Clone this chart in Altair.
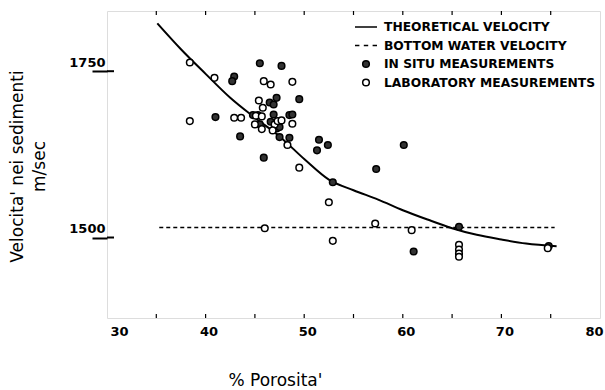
import altair as alt
import pandas as pd

# ---------------- data ----------------
X_DOMAIN = [30, 80]
Y_DOMAIN = [1379, 1840.5]
X_LABEL_TICKS = [30, 40, 50, 60, 70, 80]
X_MINOR_TICKS = [35, 40, 45, 50, 55, 60, 65, 70, 75]
Y_TICKS = [1500, 1750]

insitu_x = [42.9, 42.7, 45.5, 47.7, 47.2, 49.5, 46.5, 46.9, 41.0, 43.5,
            45.9, 51.5, 52.4, 51.3, 47.5, 44.8, 45.3, 46.9, 48.5, 48.8,
            45.5, 46.6, 47.2, 47.5, 52.9, 57.3, 60.1, 61.1, 65.7, 74.8,
            48.5]
insitu_y = [1742, 1735, 1762, 1758, 1710, 1708, 1703, 1700, 1681, 1652,
            1620, 1647, 1639, 1631, 1651, 1684, 1684, 1685, 1684, 1685,
            1670, 1674, 1664, 1666, 1583, 1603, 1639, 1479, 1516, 1487,
            1650]

lab_x = [38.4, 40.9, 45.9, 46.6, 48.8, 45.4, 45.8, 38.4, 42.9, 43.6,
         45.0, 45.7, 47.0, 47.3, 47.7, 46.8, 48.8, 48.3, 49.5, 52.5,
         46.0, 52.9, 57.2, 60.9, 65.7, 65.7, 65.7, 65.7, 74.7, 45.1,
         45.7]
lab_y = [1763, 1740, 1735, 1730, 1734, 1706, 1695, 1675, 1680, 1680,
         1670, 1663, 1670, 1675, 1676, 1661, 1671, 1639, 1605, 1553,
         1514, 1495, 1521, 1511, 1489, 1482, 1476, 1471, 1484, 1683,
         1682]

curve_x = [35.1, 37.5, 40, 42.5, 45, 47.5, 50, 52.5, 55, 57.5, 60, 62.5,
           65, 67.5, 70, 72.5, 75.6]
curve_y = [1822, 1783, 1746, 1710, 1680, 1652, 1618, 1587, 1571, 1557,
           1541, 1527, 1514, 1504, 1497, 1491, 1487]

bottom_x = [35.3, 75.4]
bottom_y = [1515, 1515]

SERIES = ["THEORETICAL VELOCITY", "BOTTOM WATER VELOCITY",
          "IN SITU MEASUREMENTS", "LABORATORY MEASUREMENTS"]

# ---------------- tables ----------------
points = pd.DataFrame({
    "x": insitu_x + lab_x,
    "y": insitu_y + lab_y,
    "series": [SERIES[2]] * len(insitu_x) + [SERIES[3]] * len(lab_x),
})
curve = pd.DataFrame({"x": curve_x, "y": curve_y})
bottom = pd.DataFrame({"x": bottom_x, "y": bottom_y})
xminor = pd.DataFrame({"x": X_MINOR_TICKS})
yt = pd.DataFrame({"y": Y_TICKS})

W, H = 493, 307
xs = alt.Scale(domain=X_DOMAIN, nice=False, zero=False)
ys = alt.Scale(domain=Y_DOMAIN, nice=False, zero=False)

x_axis = alt.Axis(values=X_LABEL_TICKS, ticks=False, domain=False, grid=False, format="d",
                  labelFont="DejaVu Sans", labelFontWeight="bold", labelFontSize=13,
                  labelColor="black", labelPadding=7, labelFlush=True, labelOffset=3,
                  title="%   Porosita'", titleFont="DejaVu Sans", titleFontSize=17,
                  titleFontWeight="normal", titleColor="black", titleAnchor="start",
                  titleX=121, titleY=67, titleBaseline="alphabetic")
y_axis = alt.Axis(values=Y_TICKS, ticks=True, tickSize=15, tickWidth=2, tickColor="black",
                  domain=False, grid=False, format="d", labelFont="DejaVu Sans",
                  labelFontWeight="bold", labelFontSize=13, labelColor="black",
                  labelPadding=-13, labelBaseline="bottom", labelOffset=-2,
                  labelAlign="right",
                  title=["Velocita'  nei  sedimenti", "m/sec"], titleFont="DejaVu Sans",
                  titleFontSize=17, titleFontWeight="normal", titleColor="black",
                  titleAngle=270, titleBaseline="top", titleAlign="center",
                  titleX=-98, titleY=155, titleLineHeight=22)


def X(field="x"):
    return alt.X(f"{field}:Q", scale=xs, axis=x_axis)


def Y(field="y"):
    return alt.Y(f"{field}:Q", scale=ys, axis=y_axis)


LINE_PATH = "M-1,0L1,0"
DASH_PATH = "M-1,0L-0.6,0M-0.2,0L0.2,0M0.6,0L1,0"
leg = alt.Legend(title=None, orient="none", legendX=247, legendY=7, clipHeight=18,
                 rowPadding=0.5, labelFont="DejaVu Sans", labelFontSize=12.3,
                 labelFontWeight="bold", labelColor="black", labelOffset=6, padding=0,
                 symbolOffset=0, labelLimit=400)

pts = alt.Chart(points).mark_point(shape="circle", stroke="black", strokeWidth=1.5,
                                    opacity=1).encode(
    x=X(), y=Y(),
    shape=alt.Shape("series:N", scale=alt.Scale(domain=SERIES,
                    range=[LINE_PATH, DASH_PATH, "circle", "circle"]), legend=leg),
    fill=alt.Fill("series:N", scale=alt.Scale(domain=SERIES,
                  range=["black", "black", "#333333", "white"]), legend=leg),
    size=alt.Size("series:N", scale=alt.Scale(type="ordinal", domain=SERIES,
                  range=[484, 484, 44, 44]), legend=leg),
)

line = alt.Chart(curve).mark_line(color="black", strokeWidth=2, interpolate="monotone").encode(
    x=X(), y=Y())
dash = alt.Chart(bottom).mark_line(color="black", strokeWidth=1.6, strokeDash=[4, 3]).encode(
    x=X(), y=Y())

bot_ticks = alt.Chart(xminor).mark_rule(color="black", strokeWidth=1.2).encode(
    x=X(), y=alt.value(H), y2=alt.value(H - 4))
top_ticks = alt.Chart(xminor).mark_rule(color="black", strokeWidth=1.2).encode(
    x=X(), y=alt.value(0), y2=alt.value(4))
y_in_ticks = alt.Chart(yt).mark_rule(color="black", strokeWidth=2).encode(
    y=Y(), x=alt.value(0), x2=alt.value(7))

chart = alt.layer(line, dash, bot_ticks, top_ticks, y_in_ticks, pts).properties(
    width=W, height=H,
    padding={"left": 107, "top": 11, "right": 5, "bottom": 72},
    autosize=alt.AutoSizeParams(type="none"),
).configure_view(stroke="black", strokeWidth=2).configure(background="white")

chart.save("out.html", embed_options={"renderer": "svg", "actions": False})
